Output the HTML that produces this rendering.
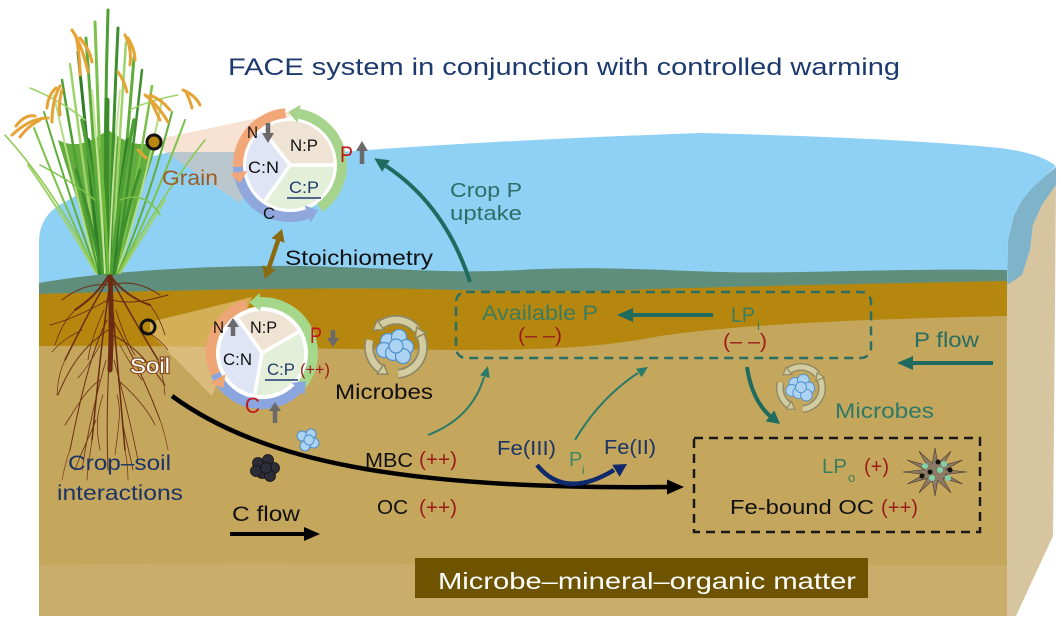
<!DOCTYPE html>
<html><head><meta charset="utf-8"><style>html,body{margin:0;padding:0;background:#fff;}svg{display:block}</style></head>
<body>
<svg width="1061" height="621" viewBox="0 0 1061 621" xmlns="http://www.w3.org/2000/svg" xmlns:xlink="http://www.w3.org/1999/xlink" font-family="'Liberation Sans', Arial, sans-serif">
<defs>
<g id="mic">
 <g fill="none" stroke-linecap="butt">
  <path d="M416.7,329.6 A27 27 0 0 0 380.5,324.9" stroke="#8e8864" stroke-width="10"/>
  <path d="M369.9,340.0 A27 27 0 0 0 380.5,369.1" stroke="#8e8864" stroke-width="10"/>
  <path d="M398.4,373.9 A27 27 0 0 0 420.5,335.6" stroke="#8e8864" stroke-width="10"/>
  <path d="M416.7,329.6 A27 27 0 0 0 380.5,324.9" stroke="#d2cca0" stroke-width="6.5"/>
  <path d="M369.9,340.0 A27 27 0 0 0 380.5,369.1" stroke="#d2cca0" stroke-width="6.5"/>
  <path d="M398.4,373.9 A27 27 0 0 0 420.5,335.6" stroke="#d2cca0" stroke-width="6.5"/>
 </g>
 <g fill="#d2cca0" stroke="#8e8864" stroke-width="1.5">
  <polygon points="377.1,320.0 383.9,329.8 373.1,330.1"/>
  <polygon points="377.1,374.0 383.9,364.2 387.9,374.3"/>
  <polygon points="425.9,333.1 415.1,338.1 416.7,327.4"/>
 </g>
 <g fill="#acd4f2" stroke="#4f8fcf" stroke-width="1.2">
  <circle cx="388" cy="341" r="7.5"/><circle cx="399" cy="337" r="7.5"/>
  <circle cx="406" cy="347" r="7.5"/><circle cx="384" cy="350" r="7.5"/>
  <circle cx="393" cy="353" r="7.5"/><circle cx="403" cy="356" r="7.5"/>
  <circle cx="396" cy="346" r="7"/>
 </g>
</g>
</defs>

<rect width="1061" height="621" fill="#fff"/>

<!-- right face -->
<polygon points="1007,278 1022,275 1030,250 1033,225 1042,205 1056,185 1053,536 1015,618 1007,618" fill="#d6c59e"/>
<polygon points="1007,285 1008,240 1014,215 1022,200 1032,188 1045,176 1056,167 1056,185 1042,205 1033,225 1030,250 1022,275" fill="#7fb3ca"/>

<!-- water -->
<path d="M39,300 L39,240 Q40,215 63,203 L100,182 Q130,160 170,152 L340,152 Q500,140 700,133 Q900,138 1000,148 Q1040,153 1056,166 L1045,176 L1032,188 L1022,200 L1014,215 L1008,240 L1007,300 Z" fill="#8fd0f5"/>

<!-- soil layers -->
<path d="M39,283 C100,272 200,265 300,266 C400,268 450,274 520,270 C600,266 650,270 720,272 C800,274 900,268 1007,270 L1007,300 L39,300 Z" fill="#5f8f7c"/>
<path d="M39,294 C150,291 300,287 420,289 C500,291 560,293 650,289 C800,285 900,283 1007,281 L1007,618 L39,618 Z" fill="#b5870f"/>
<path d="M39,346 C150,345 300,349 460,350 C540,350 600,348 660,336 C720,327 820,320 1007,316 L1007,618 L39,618 Z" fill="#c4a65c"/>
<path d="M39,565 C300,560 700,568 1007,565 L1007,616 L39,616 Z" fill="#c9ae6b"/>
<rect x="0" y="616" width="1061" height="5" fill="#fff"/>

<!-- beams -->
<polygon points="150,322 252,297 212,396 150,333" fill="rgba(238,205,150,0.55)"/>
<polygon points="158,139 292,111 240,203 158,147" fill="rgba(240,190,160,0.45)"/>

<!-- roots -->
<g fill="none" stroke="#6a2c14" stroke-linecap="round">
 <path d="M110,273 C111,300 112,330 110,370" stroke-width="5"/>
 <path d="M110,273 C100,290 90,300 75,310" stroke-width="2"/>
 <path d="M110,275 C120,290 135,300 150,305" stroke-width="2"/>
 <path d="M108,280 C95,300 80,330 65,360" stroke-width="1.5"/>
 <path d="M112,280 C125,305 140,330 158,360" stroke-width="1.5"/>
 <path d="M109,290 C103,330 98,380 92,440" stroke-width="1.5"/>
 <path d="M111,290 C115,340 120,390 125,450" stroke-width="1.5"/>
 <path d="M108,300 C90,310 70,320 50,325" stroke-width="1"/>
 <path d="M112,300 C130,305 150,300 168,295" stroke-width="1"/>
 <path d="M107,320 C92,350 82,390 70,450" stroke-width="1"/>
 <path d="M113,320 C130,350 145,380 160,420" stroke-width="1"/>
 <path d="M110,340 C108,380 106,420 108,470" stroke-width="1"/>
 <path d="M108,330 C85,345 70,365 58,395" stroke-width="1"/>
 <path d="M112,335 C135,345 150,365 165,385" stroke-width="1"/>
 <path d="M106,360 C95,400 88,430 82,470" stroke-width="0.8"/>
 <path d="M114,360 C125,400 132,430 138,460" stroke-width="0.8"/>
 <path d="M108,285 C90,283 75,290 62,300" stroke-width="1"/>
 <path d="M112,285 C130,280 145,285 160,295" stroke-width="1"/>
 <path d="M100,380 C85,390 75,410 65,425" stroke-width="0.8"/>
 <path d="M118,380 C135,395 148,410 155,425" stroke-width="0.8"/>
 <path d="M96,420 C88,440 80,455 75,470" stroke-width="0.8"/>
 <path d="M122,420 C126,440 130,455 133,470" stroke-width="0.8"/>
 <path d="M75,310 C65,320 60,330 55,345" stroke-width="0.8"/>
 <path d="M150,305 C158,315 162,325 165,335" stroke-width="0.8"/>
 <path d="M65,360 C60,370 58,380 57,395" stroke-width="0.7"/>
 <path d="M158,360 C162,372 164,382 165,395" stroke-width="0.7"/>
 <path d="M92,440 C90,455 88,465 87,480" stroke-width="0.7"/>
 <path d="M125,450 C127,460 128,470 128,480" stroke-width="0.7"/>
 <path d="M104,310 C95,330 90,345 88,360" stroke-width="0.8"/>
 <path d="M116,310 C122,330 128,345 135,355" stroke-width="0.8"/>
 <path d="M100,345 C92,360 85,370 78,378" stroke-width="0.7"/>
 <path d="M120,345 C128,360 134,370 142,380" stroke-width="0.7"/>
 <path d="M103,395 C96,415 96,430 100,450" stroke-width="0.7"/>
 <path d="M117,395 C122,410 118,430 115,455" stroke-width="0.7"/>
 <path d="M82,330 C72,335 62,340 52,352" stroke-width="0.7"/>
 <path d="M140,330 C150,332 160,340 168,350" stroke-width="0.7"/>
 <path d="M70,450 C66,460 64,470 62,480" stroke-width="0.6"/>
 <path d="M160,420 C164,430 166,440 168,450" stroke-width="0.6"/>
</g>

<!-- plant -->
<path d="M98,273 C88,230 70,180 58,140 C78,150 93,140 108,130 C123,140 138,150 158,140 C146,180 128,230 118,273 Z" fill="#62ad3e"/>
<g fill="none" stroke-linecap="round">
 <path d="M106,273 Q104,140 108,10" stroke="#4e9f34" stroke-width="3"/>
 <path d="M104,273 Q100,150 95,22" stroke="#7cc24a" stroke-width="3"/>
 <path d="M110,273 Q112,150 118,28" stroke="#3f8f2e" stroke-width="3"/>
 <path d="M102,273 Q95,160 86,38" stroke="#5fae3a" stroke-width="3"/>
 <path d="M112,273 Q118,160 126,42" stroke="#9fd36a" stroke-width="2.5"/>
 <path d="M100,273 Q90,170 78,52" stroke="#2f7d28" stroke-width="3"/>
 <path d="M114,273 Q125,170 134,58" stroke="#5fae3a" stroke-width="3"/>
 <path d="M99,273 Q85,180 70,64" stroke="#9fd36a" stroke-width="2.5"/>
 <path d="M115,273 Q130,180 142,70" stroke="#3f8f2e" stroke-width="2.5"/>
 <path d="M98,273 Q80,190 62,80" stroke="#4e9f34" stroke-width="2.5"/>
 <path d="M116,273 Q136,190 152,86" stroke="#7cc24a" stroke-width="2.5"/>
 <path d="M97,273 Q76,195 54,96" stroke="#b6dc85" stroke-width="2"/>
 <path d="M117,273 Q142,200 162,100" stroke="#b6dc85" stroke-width="2"/>
 <path d="M97,273 Q70,200 44,112" stroke="#5fae3a" stroke-width="2"/>
 <path d="M118,273 Q148,205 172,112" stroke="#5fae3a" stroke-width="2"/>
 <path d="M96,273 Q64,205 34,128" stroke="#7cc24a" stroke-width="2"/>
 <path d="M119,273 Q152,210 185,120" stroke="#7cc24a" stroke-width="2"/>
 <path d="M96,273 Q60,210 28,165" stroke="#9fd36a" stroke-width="2"/>
 <path d="M120,273 Q150,225 165,200" stroke="#9fd36a" stroke-width="2"/>
 <path d="M97,273 Q55,190 5,135" stroke="#8cc84b" stroke-width="1.5"/>
 <path d="M119,273 Q165,190 205,140" stroke="#8cc84b" stroke-width="1.5"/>
 <path d="M100,273 Q96,200 88,140" stroke="#2f7d28" stroke-width="4"/>
 <path d="M114,273 Q118,200 128,140" stroke="#2f7d28" stroke-width="4"/>
 <path d="M107,273 Q106,200 107,100" stroke="#3d8c2a" stroke-width="5"/>
 <path d="M103,273 Q98,200 82,120" stroke="#4e9f34" stroke-width="3.5"/>
 <path d="M111,273 Q118,200 134,120" stroke="#4e9f34" stroke-width="3.5"/>
 <path d="M105,273 Q100,180 92,90" stroke="#c5e39a" stroke-width="2"/>
 <path d="M109,273 Q112,180 120,90" stroke="#c5e39a" stroke-width="1.8"/>
 <path d="M101,273 Q92,220 76,170" stroke="#3f8f2e" stroke-width="3"/>
 <path d="M115,273 Q124,220 140,170" stroke="#3f8f2e" stroke-width="3"/>
 <path d="M108,273 Q106,220 100,150" stroke="#6cb83a" stroke-width="3"/>
 <path d="M95,200 Q70,180 40,165" stroke="#7cc24a" stroke-width="1.5"/>
 <path d="M120,200 Q145,190 160,215" stroke="#7cc24a" stroke-width="1.5"/>
 <path d="M85,120 Q60,100 30,88" stroke="#9fd36a" stroke-width="1.5"/>
 <path d="M130,110 Q150,100 178,95" stroke="#9fd36a" stroke-width="1.5"/>
</g>
<g fill="none" stroke="#e4a334" stroke-width="3" stroke-linecap="round">
 <path d="M48,118 Q30,118 12,135"/><path d="M40,120 Q28,126 20,137"/><path d="M35,116 Q25,114 16,126"/>
 <path d="M60,86 Q52,100 52,122"/><path d="M62,90 Q58,104 60,115"/><path d="M56,88 Q48,95 47,108"/>
 <path d="M72,30 Q82,45 88,72"/><path d="M76,36 Q80,55 80,75"/><path d="M80,38 Q90,50 92,62"/>
 <path d="M125,35 Q132,48 130,65"/><path d="M128,38 Q135,50 135,60"/>
 <path d="M118,72 Q124,80 127,92"/>
 <path d="M145,95 Q158,105 168,122"/><path d="M150,98 Q155,110 160,120"/><path d="M150,95 Q162,100 170,110"/>
 <path d="M183,90 Q195,95 200,105"/><path d="M186,92 Q190,100 192,108"/>
 <path d="M138,150 Q142,154 146,158"/>
</g>

<!-- points -->
<circle cx="154" cy="142" r="7" fill="#b8860b" stroke="#111" stroke-width="3"/>
<circle cx="148" cy="327" r="7" fill="none" stroke="#111" stroke-width="3"/>

<!-- grain circle -->
<circle cx="290" cy="165" r="47.5" fill="#fff"/>
<path d="M290,165 L262.9,130.3 A44 44 0 0 1 334,165 Z" fill="#efe4d4"/>
<path d="M290,165 L334,165 A44 44 0 0 1 264.8,201.0 Z" fill="#e4efda"/>
<path d="M290,165 L264.8,201.0 A44 44 0 0 1 262.9,130.3 Z" fill="#dfe5f4"/>
<g stroke="#fff" stroke-width="3.5"><line x1="290" y1="165" x2="262.9" y2="130.3"/><line x1="290" y1="165" x2="334" y2="165"/><line x1="290" y1="165" x2="264.8" y2="201"/></g>
<g fill="none" stroke-width="10">
 <path d="M319.8,207.6 A52 52 0 0 0 299.0,113.8" stroke="#a6d48c"/>
 <path d="M285.5,113.2 A52 52 0 0 0 238.5,172.2" stroke="#f2a779"/>
 <path d="M238.0,166.8 A52 52 0 0 0 307.8,213.9" stroke="#8fa7dc"/>
</g>
<polygon points="300.6,104.9 297.4,122.7 288.2,111.9" fill="#a6d48c"/>
<polygon points="229.6,173.5 247.4,170.9 240.0,183.1" fill="#f2a779"/>
<polygon points="310.9,222.4 304.7,205.4 318.1,210.1" fill="#8fa7dc"/>

<!-- soil circle -->
<circle cx="262" cy="353" r="46.5" fill="#fff"/>
<path d="M262,353 L237.9,318.6 A42 42 0 0 1 298.4,332.0 Z" fill="#efe4d4"/>
<path d="M262,353 L298.4,332.0 A42 42 0 0 1 254.7,394.4 Z" fill="#e4efda"/>
<path d="M262,353 L254.7,394.4 A42 42 0 0 1 237.9,318.6 Z" fill="#dfe5f4"/>
<g stroke="#fff" stroke-width="3.5"><line x1="262" y1="353" x2="237.9" y2="318.6"/><line x1="262" y1="353" x2="298.4" y2="332"/><line x1="262" y1="353" x2="254.7" y2="394.4"/></g>
<g fill="none" stroke-width="10">
 <path d="M301.1,385.8 A51 51 0 0 0 260.2,302.1" stroke="#a6d88c"/>
 <path d="M246.2,304.5 A51 51 0 0 0 217.8,378.5" stroke="#efa676"/>
 <path d="M215.4,373.8 A51 51 0 0 0 298.1,389.1" stroke="#8ba6de"/>
</g>
<polygon points="259.9,293.1 260.5,311.1 249.2,302.5" fill="#a6d88c"/>
<polygon points="210.0,383.0 225.6,374.0 223.3,388.0" fill="#efa676"/>
<polygon points="304.5,395.5 291.7,382.7 305.9,381.3" fill="#8ba6de"/>

<!-- gray arrows -->
<g fill="#6a6a6a">
 <rect x="265.75" y="123" width="4.5" height="11"/><polygon points="262,133 274,133 268,143"/>
 <rect x="359.75" y="150" width="4.5" height="14"/><polygon points="356,151 368,151 362,141"/>
 <rect x="230.75" y="326" width="4.5" height="10"/><polygon points="227,327 239,327 233,318"/>
 <rect x="330.75" y="330" width="4.5" height="9"/><polygon points="327,338 339,338 333,347"/>
 <rect x="272.75" y="410" width="4.5" height="13"/><polygon points="269,411 281,411 275,402"/>
</g>

<!-- microbes -->
<use href="#mic" xlink:href="#mic"/>
<use href="#mic" xlink:href="#mic" transform="translate(801,388) scale(0.78) translate(-396,-347)"/>
<g fill="#acd4f2" stroke="#4f8fcf" stroke-width="1">
 <circle cx="302" cy="436" r="5"/><circle cx="311" cy="434" r="5"/><circle cx="314" cy="443" r="5"/><circle cx="305" cy="446" r="5"/><circle cx="309" cy="440" r="5"/>
</g>
<g fill="#2d2d38" stroke="#111" stroke-width="0.8">
 <circle cx="258" cy="463" r="5.5"/><circle cx="268" cy="460" r="5.5"/><circle cx="274" cy="468" r="5.5"/><circle cx="262" cy="473" r="5.5"/><circle cx="270" cy="476" r="5.5"/><circle cx="256" cy="471" r="5.5"/><circle cx="266" cy="468" r="5.5"/>
</g>

<!-- mineral -->
<polygon points="967,472 945.6,474.3 962.7,484 942.8,478.4 951,492.8 937.8,480.7 935,496 932.2,480.7 919,492.8 927.2,478.4 907.3,484 924.4,474.3 903,472 924.4,469.7 907.3,460 927.2,465.6 919,451.2 932.2,463.3 935,448 937.8,463.3 951,451.2 942.8,465.6 962.7,460 945.6,469.7" fill="#8c7a66" stroke="#4a3a2a" stroke-width="0.6"/>
<g fill="#7fd1a8"><circle cx="925" cy="466" r="3"/><circle cx="940" cy="470" r="3"/><circle cx="948" cy="478" r="3"/><circle cx="932" cy="478" r="3"/><circle cx="944" cy="464" r="3"/></g>
<g fill="#111"><circle cx="930" cy="472" r="2.5"/><circle cx="938" cy="462" r="2.5"/><circle cx="950" cy="470" r="2.5"/><circle cx="922" cy="476" r="2.5"/></g>

<!-- boxes -->
<rect x="456" y="292" width="415" height="66" rx="10" fill="none" stroke="#2b6e63" stroke-width="2.5" stroke-dasharray="9 6"/>
<rect x="694" y="438" width="286" height="94" fill="none" stroke="#1a1a1a" stroke-width="2.5" stroke-dasharray="9 6"/>
<rect x="415" y="558" width="453" height="40" fill="#6e5301"/>

<!-- arrows -->
<g fill="none" stroke-linecap="butt">
 <path d="M172,396 C260,460 400,490 668,487" stroke="#000" stroke-width="4.5"/>
 <line x1="230" y1="534" x2="305" y2="534" stroke="#000" stroke-width="4"/>
 <path d="M470,282 Q445,205 386,166" stroke="#1f6b5f" stroke-width="4"/>
 <line x1="713" y1="315" x2="632" y2="315" stroke="#1f6b5f" stroke-width="4"/>
 <line x1="993" y1="363" x2="912" y2="363" stroke="#1f6b5f" stroke-width="4"/>
 <path d="M747,367 Q752,400 770,416" stroke="#1f6b5f" stroke-width="4"/>
 <path d="M428,435 Q472,418 484,377" stroke="#2a7a6a" stroke-width="2"/>
 <path d="M575,440 Q600,398 638,373" stroke="#2a7a6a" stroke-width="2"/>
 <path d="M537,465 Q565,500 614,470" stroke="#0e2a6d" stroke-width="4.5"/>
 <line x1="268.9" y1="267.6" x2="278.1" y2="240.4" stroke="#8a6a10" stroke-width="4.5"/>
</g>
<polygon points="684,487 667,479.5 667,494.5" fill="#000"/>
<polygon points="320,534 304,527 304,541" fill="#000"/>
<polygon points="374.3,158.3 389.9,160.2 382.1,171.8" fill="#1f6b5f"/>
<polygon points="617,315 633,308 633,322" fill="#1f6b5f"/>
<polygon points="897,363 913,356 913,370" fill="#1f6b5f"/>
<polygon points="780,424 765.7,421.4 774.3,410.4" fill="#1f6b5f"/>
<polygon points="488,366 489.7,378 480.1,375.2" fill="#2a7a6a"/>
<polygon points="648,367 641.6,377.2 636.1,368.8" fill="#2a7a6a"/>
<polygon points="627,464 619.6,476.8 612.2,464.8" fill="#0e2a6d"/>
<polygon points="282,229 284.7,242.7 271.5,238.2" fill="#8a6a10"/>
<polygon points="265,279 275.5,269.9 262.3,265.4" fill="#8a6a10"/>

<!-- text -->
<g>
<text x="228" y="75" font-size="24" fill="#1d3a6e" textLength="672" lengthAdjust="spacingAndGlyphs">FACE system in conjunction with controlled warming</text>
<text x="162" y="185" font-size="21" fill="#9b5b25" textLength="56" lengthAdjust="spacingAndGlyphs">Grain</text>
<text x="285" y="265" font-size="21" fill="#111" textLength="148" lengthAdjust="spacingAndGlyphs">Stoichiometry</text>
<text x="450" y="197" font-size="20" fill="#2d6e67" textLength="72" lengthAdjust="spacingAndGlyphs">Crop P</text>
<text x="450" y="220" font-size="20" fill="#2d6e67" textLength="72" lengthAdjust="spacingAndGlyphs">uptake</text>
<text x="482" y="320" font-size="21" fill="#3b7b5e" textLength="116" lengthAdjust="spacingAndGlyphs">Available P</text>
<text x="518" y="342" font-size="20" fill="#9b1b1b" textLength="44" lengthAdjust="spacingAndGlyphs">(– –)</text>
<text x="731" y="322" font-size="21" fill="#3b7b5e" textLength="24" lengthAdjust="spacingAndGlyphs">LP</text>
<text x="757" y="330" font-size="13" fill="#3b7b5e">i</text>
<text x="723" y="348" font-size="20" fill="#9b1b1b" textLength="44" lengthAdjust="spacingAndGlyphs">(– –)</text>
<text x="914" y="347" font-size="21" fill="#2a6e62" textLength="65" lengthAdjust="spacingAndGlyphs">P flow</text>
<text x="835" y="418" font-size="21" fill="#2e7a68" textLength="99" lengthAdjust="spacingAndGlyphs">Microbes</text>
<text x="335" y="399" font-size="21" fill="#111" textLength="98" lengthAdjust="spacingAndGlyphs">Microbes</text>
<text x="365" y="467" font-size="20" fill="#111" textLength="48" lengthAdjust="spacingAndGlyphs">MBC</text>
<text x="419" y="466" font-size="20" fill="#9b1b1b" textLength="38" lengthAdjust="spacingAndGlyphs">(++)</text>
<text x="377" y="514" font-size="20" fill="#111" textLength="31" lengthAdjust="spacingAndGlyphs">OC</text>
<text x="419" y="514" font-size="20" fill="#9b1b1b" textLength="38" lengthAdjust="spacingAndGlyphs">(++)</text>
<text x="497" y="455" font-size="20" fill="#1c3466" textLength="59" lengthAdjust="spacingAndGlyphs">Fe(III)</text>
<text x="569" y="466" font-size="20" fill="#3b8a5e">P</text>
<text x="582" y="474" font-size="12" fill="#3b8a5e">i</text>
<text x="604" y="454" font-size="20" fill="#1c3466" textLength="52" lengthAdjust="spacingAndGlyphs">Fe(II)</text>
<text x="822" y="473" font-size="20" fill="#3b7b5e" textLength="25" lengthAdjust="spacingAndGlyphs">LP</text>
<text x="848" y="482" font-size="13" fill="#3b7b5e">o</text>
<text x="864" y="473" font-size="20" fill="#9b1b1b" textLength="25" lengthAdjust="spacingAndGlyphs">(+)</text>
<text x="730" y="514" font-size="20" fill="#111" textLength="144" lengthAdjust="spacingAndGlyphs">Fe-bound OC</text>
<text x="881" y="514" font-size="20" fill="#9b1b1b" textLength="37" lengthAdjust="spacingAndGlyphs">(++)</text>
<text x="232" y="521" font-size="21" fill="#111" textLength="68" lengthAdjust="spacingAndGlyphs">C flow</text>
<text x="68" y="470" font-size="21" fill="#1c3466" textLength="103" lengthAdjust="spacingAndGlyphs">Crop–soil</text>
<text x="57" y="500" font-size="21" fill="#1c3466" textLength="126" lengthAdjust="spacingAndGlyphs">interactions</text>
<text x="438" y="589" font-size="23" fill="#fff" textLength="418" lengthAdjust="spacingAndGlyphs">Microbe–mineral–organic matter</text>
<text x="130" y="373" font-size="21" fill="#fff" stroke="#8a4b1e" stroke-width="2.2" paint-order="stroke" textLength="40" lengthAdjust="spacingAndGlyphs">Soil</text>

<text x="247" y="138" font-size="17" fill="#111" textLength="11" lengthAdjust="spacingAndGlyphs">N</text>
<text x="290" y="151" font-size="17" fill="#111" textLength="28" lengthAdjust="spacingAndGlyphs">N:P</text>
<text x="248" y="173" font-size="17" fill="#111" textLength="31" lengthAdjust="spacingAndGlyphs">C:N</text>
<text x="289" y="193" font-size="17" fill="#1f3a6e" textLength="30" lengthAdjust="spacingAndGlyphs">C:P</text>
<line x1="287" y1="198" x2="321" y2="198" stroke="#1f3a6e" stroke-width="1.6"/>
<text x="263" y="219" font-size="17" fill="#111" textLength="12" lengthAdjust="spacingAndGlyphs">C</text>
<text x="340" y="162" font-size="22" fill="#c0161b" textLength="13" lengthAdjust="spacingAndGlyphs">P</text>

<text x="213" y="333" font-size="17" fill="#111" textLength="11" lengthAdjust="spacingAndGlyphs">N</text>
<text x="250" y="333" font-size="17" fill="#111" textLength="27" lengthAdjust="spacingAndGlyphs">N:P</text>
<text x="223" y="365" font-size="17" fill="#111" textLength="29" lengthAdjust="spacingAndGlyphs">C:N</text>
<text x="267" y="375" font-size="17" fill="#1f3a6e" textLength="28" lengthAdjust="spacingAndGlyphs">C:P</text>
<line x1="265" y1="380" x2="298" y2="380" stroke="#1f3a6e" stroke-width="1.6"/>
<text x="300" y="375" font-size="17" fill="#9b1b1b" textLength="30" lengthAdjust="spacingAndGlyphs">(++)</text>
<text x="310" y="343" font-size="22" fill="#c0161b" textLength="12" lengthAdjust="spacingAndGlyphs">P</text>
<text x="245" y="413" font-size="22" fill="#c0161b" textLength="15" lengthAdjust="spacingAndGlyphs">C</text>
</g>
</svg>
</body></html>
